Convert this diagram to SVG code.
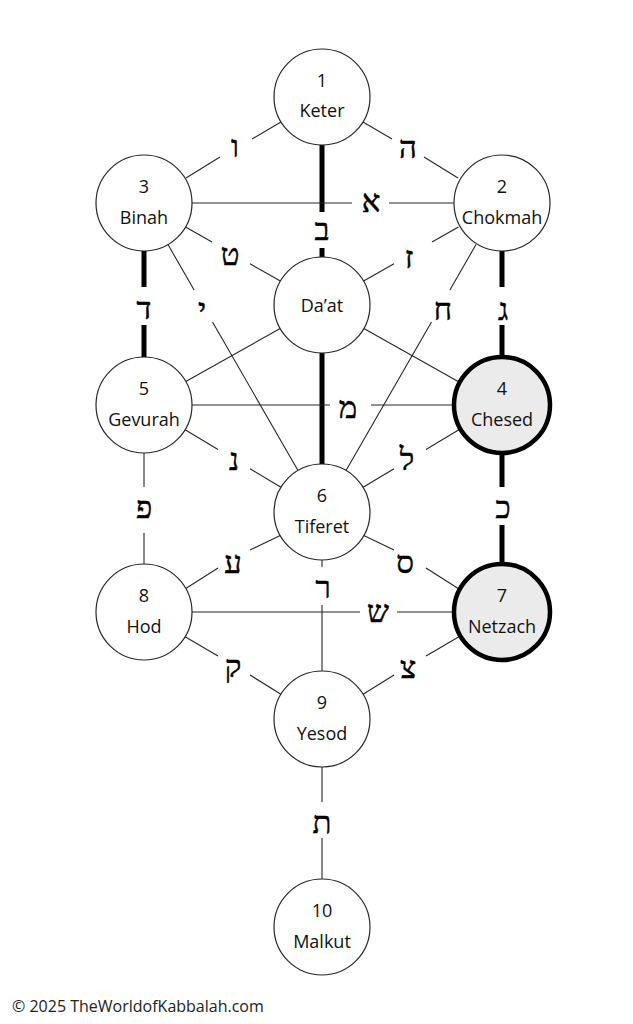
<svg xmlns="http://www.w3.org/2000/svg" width="633" height="1024" viewBox="0 0 633 1024">
<style>
.bg{fill:#ffffff}
.ln{stroke:#262626;stroke-width:1.1;fill:none}
.tk{stroke:#000;stroke-width:5;fill:none}
.nd{fill:#fff;stroke:#262626;stroke-width:1.2}
.hl{fill:#ebebeb;stroke:#000;stroke-width:4.5}
.t{font-family:"Open Sans","Noto Sans",sans-serif;font-size:18px;fill:#111;text-anchor:middle}
.h{font-family:"Liberation Serif","DejaVu Serif","DejaVu Sans",serif;font-size:31px;fill:#000;stroke:#000;stroke-width:0.5;text-anchor:middle}
.c{font-family:"Open Sans","Noto Sans",sans-serif;font-size:16px;fill:#222}
</style>
<rect class="bg" x="0" y="0" width="633" height="1024"/>
<g id="connectors">
<path class="ln" d="M281,122 L252,139 M220,157 L186,178"/>
<path class="ln" d="M363,122 L392,139 M424,157 L458,178"/>
<path class="tk" d="M322,145 L322,212 M322,248 L322,257"/>
<path class="ln" d="M192,203 L352,203 M389,203 L454,203"/>
<path class="ln" d="M185.6,226.9 L212,242 M250,263.8 L280.4,281.1"/>
<path class="ln" d="M458.4,226.9 L432,242 M394,263.8 L363.6,281.1"/>
<path class="ln" d="M168,244.6 L194.1,290 M212.5,322 L298,470.4"/>
<path class="ln" d="M476,244.6 L449.9,290 M431.5,322 L346,470.4"/>
<path class="tk" d="M144,251 L144,287 M144,325 L144,357"/>
<path class="tk" d="M502,251 L502,287 M502,325 L502,357"/>
<path class="ln" d="M185.8,381.5 L280.2,328.5"/>
<path class="ln" d="M363.8,328.5 L458.2,381.5"/>
<path class="tk" d="M322,353 L322,464"/>
<path class="ln" d="M192,405 L330,405 M371,405 L454,405"/>
<path class="ln" d="M185.1,429.7 L218,449.5 M250,468.7 L280.9,487.3"/>
<path class="ln" d="M458.9,429.7 L426,449.5 M394,468.7 L363.1,487.3"/>
<path class="ln" d="M144,453 L144,487 M144,533 L144,564"/>
<path class="tk" d="M502,453 L502,487 M502,525 L502,564"/>
<path class="ln" d="M280.2,535.5 L250,550 M218,568 L185.8,588.5"/>
<path class="ln" d="M363.8,535.5 L394,550 M426,568 L458.2,588.5"/>
<path class="ln" d="M322,560 L322,567 M322,605 L322,671"/>
<path class="ln" d="M192,612 L360,612 M397,612 L454,612"/>
<path class="ln" d="M185.1,636.7 L218,656 M250,675 L280.9,694.3"/>
<path class="ln" d="M458.9,636.7 L426,656 M394,675 L363.1,694.3"/>
<path class="ln" d="M322,767 L322,802 M322,838 L322,879"/>
<text class="h" x="235" y="157">ו</text>
<text class="h" x="408" y="158">ה</text>
<text class="h" x="371" y="212">א</text>
<text class="h" x="322" y="240">ב</text>
<text class="h" x="230" y="265">ט</text>
<text class="h" x="409" y="268">ז</text>
<text class="h" x="144" y="319">ד</text>
<text class="h" x="202" y="320">י</text>
<text class="h" x="443" y="320">ח</text>
<text class="h" x="503" y="320">ג</text>
<text class="h" x="348" y="418">מ</text>
<text class="h" x="234" y="470">נ</text>
<text class="h" x="407" y="470">ל</text>
<text class="h" x="144" y="518">פ</text>
<text class="h" x="503" y="518">כ</text>
<text class="h" x="233" y="573">ע</text>
<text class="h" x="405" y="573">ס</text>
<text class="h" x="323" y="598">ר</text>
<text class="h" x="378" y="622">ש</text>
<text class="h" x="233" y="677">ק</text>
<text class="h" x="408" y="678">צ</text>
<text class="h" x="322" y="833">ת</text>
</g>
<g id="keter"><circle class="nd" cx="322" cy="97" r="48"/><text class="t" x="322" y="87">1</text><text class="t" x="322" y="117">Keter</text></g>
<g id="chokmah"><circle class="nd" cx="502" cy="203" r="48"/><text class="t" x="502" y="193">2</text><text class="t" x="502" y="224">Chokmah</text></g>
<g id="binah"><circle class="nd" cx="144" cy="203" r="48"/><text class="t" x="144" y="193">3</text><text class="t" x="144" y="224">Binah</text></g>
<g id="daat"><circle class="nd" cx="322" cy="305" r="48"/><text class="t" x="322" y="312">Da’at</text></g>
<g id="chesed"><circle class="hl" cx="502" cy="405" r="48"/><text class="t" x="502" y="395">4</text><text class="t" x="502" y="426">Chesed</text></g>
<g id="gevurah"><circle class="nd" cx="144" cy="405" r="48"/><text class="t" x="144" y="395">5</text><text class="t" x="144" y="426">Gevurah</text></g>
<g id="tiferet"><circle class="nd" cx="322" cy="512" r="48"/><text class="t" x="322" y="502">6</text><text class="t" x="322" y="533">Tiferet</text></g>
<g id="netzach"><circle class="hl" cx="502" cy="612" r="48"/><text class="t" x="502" y="602">7</text><text class="t" x="502" y="633">Netzach</text></g>
<g id="hod"><circle class="nd" cx="144" cy="612" r="48"/><text class="t" x="144" y="602">8</text><text class="t" x="144" y="633">Hod</text></g>
<g id="yesod"><circle class="nd" cx="322" cy="719" r="48"/><text class="t" x="322" y="709">9</text><text class="t" x="322" y="740">Yesod</text></g>
<g id="malkut"><circle class="nd" cx="322" cy="927" r="48"/><text class="t" x="322" y="917">10</text><text class="t" x="322" y="948">Malkut</text></g>
<text class="c" x="12" y="1012">© 2025 TheWorldofKabbalah.com</text>
</svg>
